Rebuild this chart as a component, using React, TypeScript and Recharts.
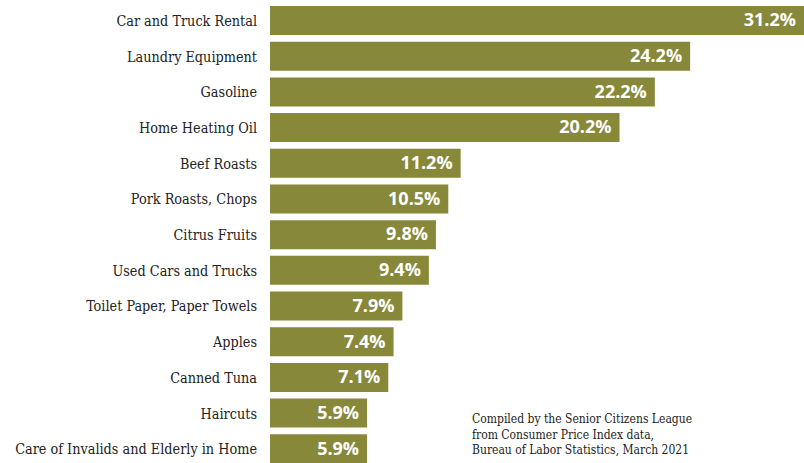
import { BarChart, Bar, XAxis, YAxis, LabelList } from 'recharts'

const categories = [
  'Car and Truck Rental',
  'Laundry Equipment',
  'Gasoline',
  'Home Heating Oil',
  'Beef Roasts',
  'Pork Roasts, Chops',
  'Citrus Fruits',
  'Used Cars and Trucks',
  'Toilet Paper, Paper Towels ',
  'Apples',
  'Canned Tuna',
  'Haircuts',
  'Care of Invalids and Elderly in Home',
]
const increases = [31.2, 24.2, 22.2, 20.2, 11.2, 10.5, 9.8, 9.4, 7.9, 7.4, 7.1, 5.9, 5.9]
const sourceLines = [
  'Compiled by the Senior Citizens League',
  'from Consumer Price Index data,',
  'Bureau of Labor Statistics, March 2021',
]

const data = categories.map((name, i) => ({ name, value: increases[i] }))

const W = 804
const PLOT_LEFT = 270
const SERIF = "'DejaVu Serif Condensed', 'DejaVu Serif', serif"

function ValueLabel(props: any) {
  const { x, y, width, height, value } = props
  const right = Math.min(x + width, W)
  return (
    <text
      x={right - 8}
      y={y + height / 2 + 1}
      textAnchor="end"
      dominantBaseline="middle"
      fill="#ffffff"
      fontFamily="'Open Sans', sans-serif"
      fontWeight={700}
      fontSize={18}
    >
      {`${value.toFixed(1)}%`}
    </text>
  )
}

export default function App() {
  return (
    <div style={{ position: 'fixed', left: 0, top: 0, width: W, height: 463, overflow: 'hidden', background: '#fff' }}>
      <BarChart
        width={W}
        height={467}
        data={data}
        layout="vertical"
        margin={{ top: 3, right: 0, bottom: 0, left: 0 }}
      >
        <XAxis type="number" hide domain={[0.4, 30.65]} allowDataOverflow />
        <YAxis
          type="category"
          dataKey="name"
          width={PLOT_LEFT}
          axisLine={false}
          tickLine={false}
          tickMargin={7}
          interval={0}
          tick={{ fill: '#222', fontSize: 14.3, fontFamily: SERIF, fontStretch: 'condensed' }}
        />
        <Bar dataKey="value" fill="#878839" barSize={29} isAnimationActive={false}>
          <LabelList dataKey="value" content={ValueLabel} />
        </Bar>
      </BarChart>
      <div
        style={{
          position: 'absolute',
          left: 472,
          top: 412,
          fontFamily: SERIF,
          fontStretch: 'condensed',
          fontSize: 12,
          lineHeight: '15.5px',
          color: '#222',
        }}
      >
        {sourceLines.map((l) => (
          <div key={l}>{l}</div>
        ))}
      </div>
    </div>
  )
}
